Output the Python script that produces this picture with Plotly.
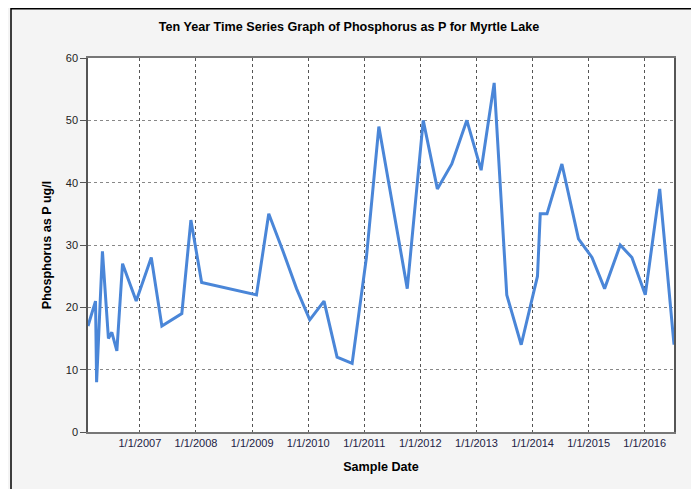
import plotly.graph_objects as go

sample_dates = [
    "2006-01-28", "2006-03-18", "2006-03-25", "2006-05-02", "2006-06-10", "2006-07-02",
    "2006-08-04", "2006-09-10", "2006-12-08", "2007-03-16", "2007-05-24", "2007-10-01",
    "2007-11-29", "2008-02-07", "2009-01-29", "2009-04-19", "2009-07-21", "2009-10-17",
    "2010-01-11", "2010-04-14", "2010-07-08", "2010-10-14", "2011-01-15", "2011-04-06",
    "2011-10-08", "2012-01-20", "2012-04-21", "2012-07-24", "2012-10-30", "2013-01-31",
    "2013-04-26", "2013-07-17", "2013-10-19", "2014-02-02", "2014-02-20", "2014-04-05",
    "2014-07-11", "2014-10-27", "2015-01-23", "2015-04-15", "2015-07-26", "2015-10-10",
    "2016-01-05", "2016-04-08", "2016-07-10",
]
phosphorus = [
    17, 21, 8, 29, 15, 16,
    13, 27, 21, 28, 17, 19,
    34, 24, 22, 35, 29, 23,
    18, 21, 12, 11, 28, 49,
    23, 50, 39, 43, 50, 42,
    56, 22, 14, 25, 35, 35,
    43, 31, 28, 23, 30, 28,
    22, 39, 14,
]
x_tick_vals = ["2007-01-01", "2008-01-01", "2009-01-01", "2010-01-01", "2011-01-01",
               "2012-01-01", "2013-01-01", "2014-01-01", "2015-01-01", "2016-01-01"]
x_tick_text = ["1/1/2007", "1/1/2008", "1/1/2009", "1/1/2010", "1/1/2011",
               "1/1/2012", "1/1/2013", "1/1/2014", "1/1/2015", "1/1/2016"]
y_tick_vals = [0, 10, 20, 30, 40, 50, 60]

FONT = "Liberation Sans, Arial, sans-serif"

# page body has an 8px margin, so the figure is laid out in figure coordinates
W, H = 691, 481
L, R, T, B = 80, 25, 50, 57
PW, PH = W - L - R, H - T - B

fig = go.Figure()
fig.add_trace(go.Scatter(
    x=sample_dates, y=phosphorus, mode="lines",
    line=dict(color="#4a86d8", width=3),
    hoverinfo="x+y",
))

fig.update_layout(
    width=W, height=H,
    margin=dict(l=L, r=R, t=T, b=B),
    paper_bgcolor="#f4f4f4",
    plot_bgcolor="#ffffff",
    showlegend=False,
    font=dict(family=FONT, size=11, color="#222222"),
    title=dict(
        text="<b>Ten Year Time Series Graph of Phosphorus as P for Myrtle Lake</b>",
        x=(349 - 8 - L) / PW, xref="paper", xanchor="center", y=1 - 19 / H, yanchor="middle",
        font=dict(family=FONT, size=12.6, color="#000000"),
    ),
    xaxis=dict(
        range=[sample_dates[0], sample_dates[-1]],
        tickvals=x_tick_vals, ticktext=x_tick_text,
        showgrid=True, gridcolor="#555555", griddash="dot", gridwidth=1,
        showline=True, linecolor="#777777", linewidth=1.5, mirror=True,
        ticks="", ticklen=0,
        tickfont=dict(size=11, color="#222244"),
        title=dict(text="<b>Sample Date</b>", font=dict(size=12.6, color="#000000"), standoff=14),
        zeroline=False,
    ),
    yaxis=dict(
        range=[0, 60],
        tickvals=y_tick_vals,
        showgrid=True, gridcolor="#888888", griddash="dot", gridwidth=1,
        showline=True, linecolor="#555555", linewidth=1.5, mirror=True,
        ticks="outside", ticklen=6, tickcolor="#555555",
        tickfont=dict(size=11, color="#222222"),
        title=dict(text="<b>Phosphorus as P ug/l</b>", font=dict(size=12.6, color="#000000"), standoff=11),
        zeroline=False,
    ),
    shapes=[dict(
        type="rect", xref="paper", yref="paper",
        x0=(3 - L) / PW, x1=(685 - L) / PW,
        y0=-(B + 20) / PH, y1=(PH + T - 0.75) / PH,
        line=dict(color="#000000", width=1.5), fillcolor="rgba(0,0,0,0)", layer="below",
    )],
)

fig.write_html("out.html")
